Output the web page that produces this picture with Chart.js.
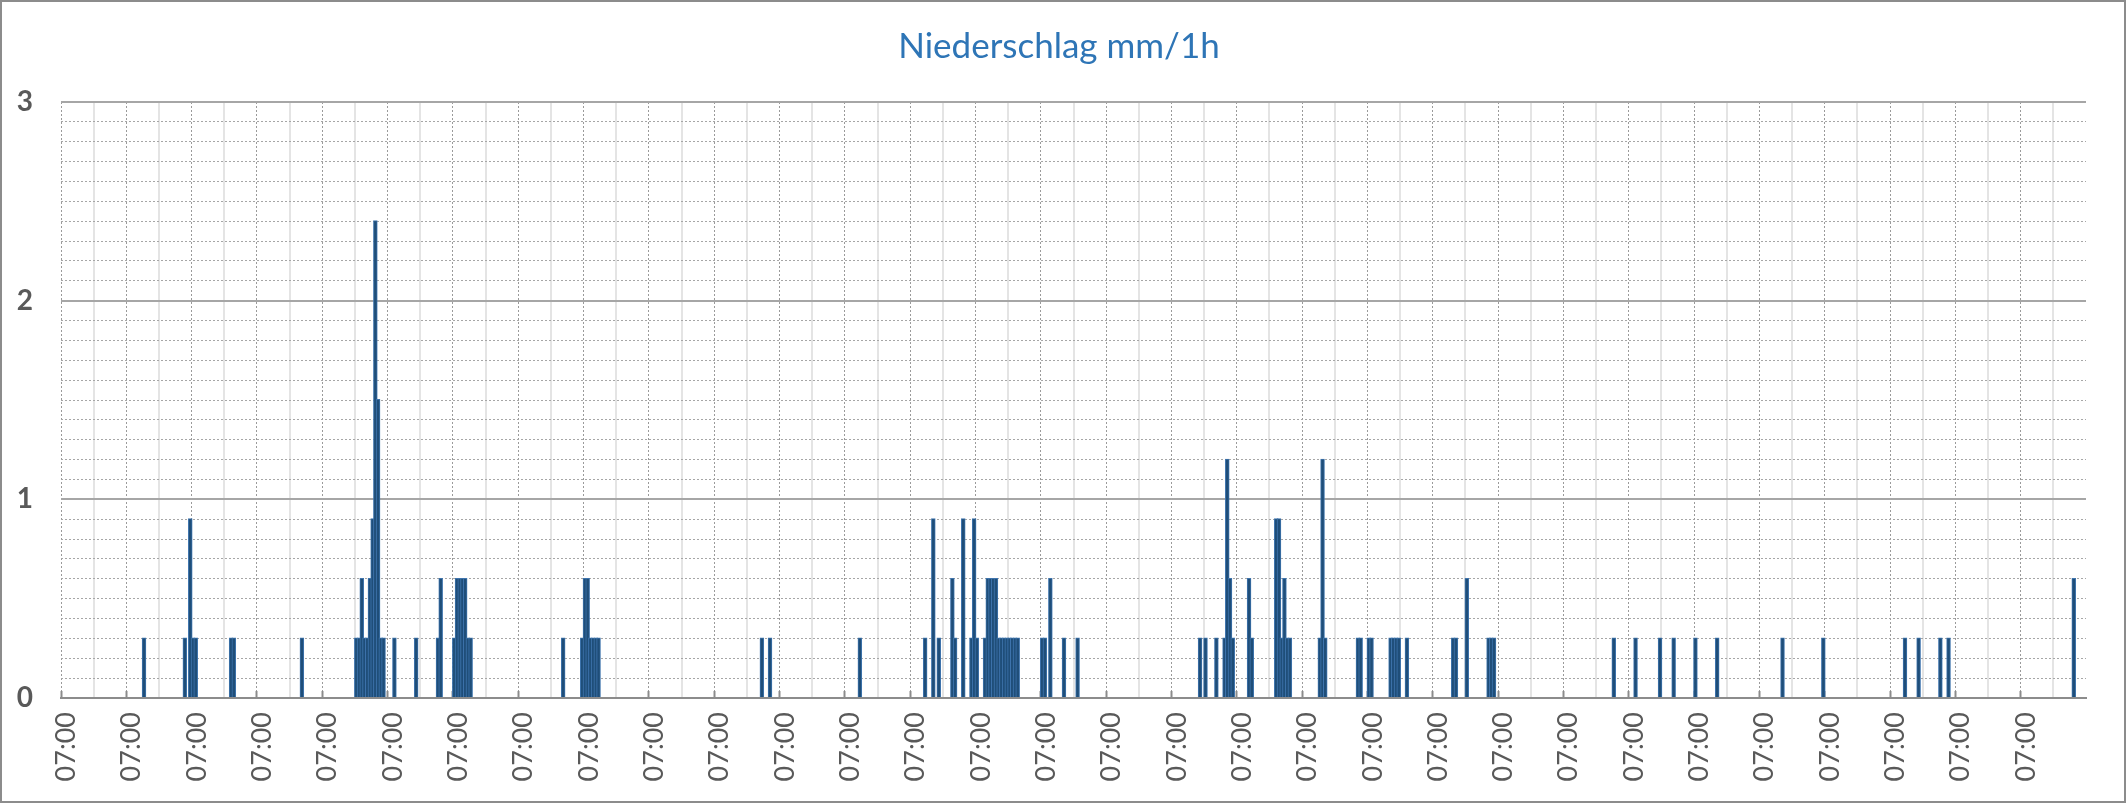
<!DOCTYPE html>
<html>
<head>
<meta charset="utf-8">
<title>Niederschlag mm/1h</title>
<script src="https://cdn.jsdelivr.net/npm/chart.js@4.4.1/dist/chart.umd.min.js"></script>
<style>
  html, body { margin: 0; padding: 0; background: #fff; }
  #wrap { position: relative; width: 2126px; height: 803px; }
  #frame { position: absolute; left: 0; top: 0; right: 0; bottom: 0; border: 2px solid #8c8c8c; pointer-events: none; }
</style>
</head>
<body>
<div id="wrap">
  <canvas id="rainChart"></canvas>
  <div id="frame"></div>
</div>
<script>
// hourly precipitation, 31 days, first hour is 07:00
const startHour = 7;
const hourCount = 744;

// hours (index from start) with rain, and the amount in mm
const wetHours = [
    30, 45, 47, 48, 49, 62, 63, 88,
    108, 109, 110, 111, 112, 113, 114, 115, 116, 117, 118,
    122, 130, 138, 139,
    144, 145, 146, 147, 148, 149, 150,
    184, 191, 192, 193, 194, 195, 196, 197,
    257, 260, 293, 317, 320, 322, 327, 328, 331, 334, 335, 336,
    339, 340, 341, 342, 343, 344, 345, 346, 347, 348, 349, 350, 351,
    360, 361, 363, 368, 373,
    418, 420, 424, 427, 428, 429, 430, 436, 437,
    446, 447, 448, 449, 450, 451, 462, 463, 464,
    476, 477, 480, 481, 488, 489, 490, 491, 494,
    511, 512, 516, 524, 525, 526,
    570, 578, 587, 592, 600, 608,
    632, 647, 677, 682, 690, 693, 739,
];
const wetAmounts = [
    0.3, 0.3, 0.9, 0.3, 0.3, 0.3, 0.3, 0.3,
    0.3, 0.3, 0.6, 0.3, 0.3, 0.6, 0.9, 2.4, 1.5, 0.3, 0.3,
    0.3, 0.3, 0.3, 0.6,
    0.3, 0.6, 0.6, 0.6, 0.6, 0.3, 0.3,
    0.3, 0.3, 0.6, 0.6, 0.3, 0.3, 0.3, 0.3,
    0.3, 0.3, 0.3, 0.3, 0.9, 0.3, 0.6, 0.3, 0.9, 0.3, 0.9, 0.3,
    0.3, 0.6, 0.6, 0.6, 0.6, 0.3, 0.3, 0.3, 0.3, 0.3, 0.3, 0.3, 0.3,
    0.3, 0.3, 0.6, 0.3, 0.3,
    0.3, 0.3, 0.3, 0.3, 1.2, 0.6, 0.3, 0.6, 0.3,
    0.9, 0.9, 0.3, 0.6, 0.3, 0.3, 0.3, 1.2, 0.3,
    0.3, 0.3, 0.3, 0.3, 0.3, 0.3, 0.3, 0.3, 0.3,
    0.3, 0.3, 0.6, 0.3, 0.3, 0.3,
    0.3, 0.3, 0.3, 0.3, 0.3, 0.3,
    0.3, 0.3, 0.3, 0.3, 0.3, 0.3, 0.6,
];
const yMax = 3;

const hourLabels = [];
for (let i = 0; i < hourCount; i++) {
    hourLabels.push(String((startHour + i) % 24).padStart(2, "0") + ":00");
}
const hourly = new Array(hourCount).fill(null);
wetHours.forEach((h, k) => { hourly[h] = wetAmounts[k]; });

const font = "Lato, 'Open Sans', sans-serif";
const clear = "rgba(0,0,0,0)";
const dayLine = (ctx) => (ctx.index % 24 === 0 ? "#9a9a9a" : clear);
const dayTick = (ctx) => (ctx.index % 24 === 0 ? "#8c8c8c" : clear);
const halfDayLine = (ctx) => (ctx.index % 24 === 12 ? "#e4e4e4" : clear);
const minorLine = (ctx) => {
    const v = ctx.tick ? ctx.tick.value : 0;
    return Math.abs(v - Math.round(v)) < 1e-6 ? clear : "#a6a6a6";
};
// fixed box sizes so the plot area sits where the original has it
const noSidePadding = (scale) => { scale.paddingLeft = 0; scale.paddingRight = 0; };

new Chart(document.getElementById("rainChart"), {
    type: "bar",
    data: {
        labels: hourLabels,
        datasets: [
            {
                data: hourly,
                backgroundColor: "#1F4E79",
                borderColor: "#3E74AD",
                borderWidth: 1,
                barPercentage: 1,
                categoryPercentage: 1,
                inflateAmount: 0.9,
            },
        ],
    },
    options: {
        responsive: true,
        maintainAspectRatio: false,
        animation: false,
        layout: {
            padding: { left: 0, right: 8, top: 0, bottom: 0 },
        },
        plugins: {
            legend: { display: false },
            tooltip: { enabled: false },
            title: {
                display: true,
                text: "Niederschlag mm/1h",
                color: "#2E75B6",
                font: { family: font, size: 35, weight: "normal" },
                padding: { top: 26, bottom: 34 },
            },
        },
        scales: {
            x: {
                type: "category",
                offset: true,
                grid: {
                    color: dayLine,
                    lineWidth: 1,
                    offset: true,
                    drawTicks: true,
                    tickLength: -7, // short marks pointing up into the plot
                    tickColor: dayTick,
                    tickWidth: 2,
                },
                border: { display: true, color: "#8c8c8c", width: 2, dash: [2, 2] },
                ticks: {
                    autoSkip: false,
                    minRotation: 90,
                    maxRotation: 90,
                    padding: 21,
                    labelOffset: 4,
                    color: "#595959",
                    font: { family: font, size: 27 },
                    callback: (v, i) => (i % 24 === 0 ? hourLabels[i] : ""),
                },
                afterFit: (scale) => { scale.height = 105; noSidePadding(scale); },
            },
            x2: {
                type: "category",
                position: "bottom",
                offset: true,
                grid: { color: halfDayLine, lineWidth: 2, offset: true, drawTicks: false },
                border: { display: false },
                ticks: { display: false, autoSkip: false },
                afterFit: (scale) => { scale.height = 0; noSidePadding(scale); },
            },
            y: {
                min: 0,
                max: yMax,
                ticks: {
                    stepSize: 1,
                    padding: 28,
                    color: "#595959",
                    font: { family: font, size: 28, weight: "bold" },
                },
                grid: { color: "#a6a6a6", lineWidth: 2, drawTicks: false },
                border: { display: false },
                afterFit: (scale) => { scale.width = 61; },
            },
            y2: {
                position: "right",
                min: 0,
                max: yMax,
                ticks: { display: false, stepSize: 0.1, maxTicksLimit: 100 },
                grid: { color: minorLine, lineWidth: 1, drawTicks: false },
                border: { display: false, dash: [2, 2] },
                afterFit: (scale) => { scale.width = 32; },
            },
        },
    },
});
</script>
</body>
</html>
